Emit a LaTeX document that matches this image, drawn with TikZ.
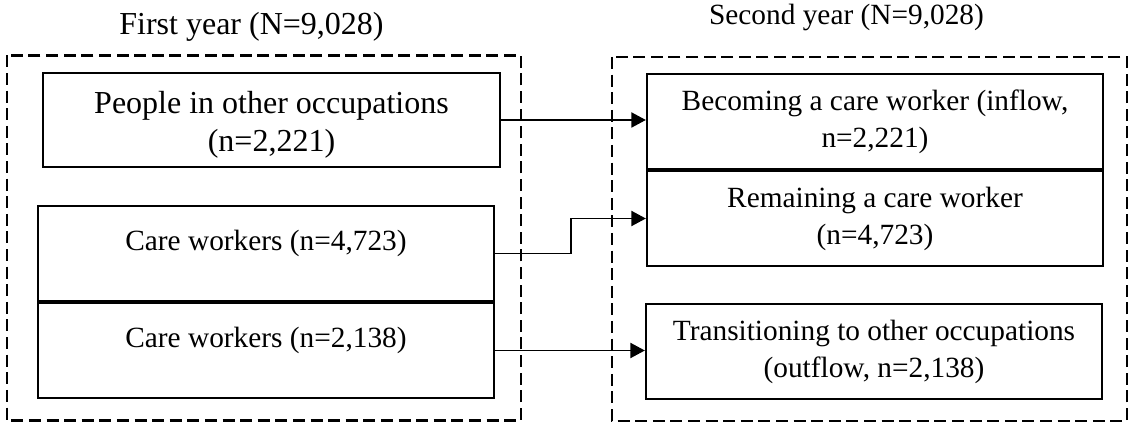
\documentclass[tikz,border=0pt]{standalone}
\usepackage{fontspec}
\setmainfont{Liberation Serif}
\usetikzlibrary{arrows.meta}

\begin{document}
\begin{tikzpicture}[x=0.375pt, y=-0.375pt,
  box/.style={draw, line width=0.9pt, inner sep=0pt, align=center, minimum width=171pt, minimum height=35.6pt, font=\fontsize{11}{13.9}\selectfont},
  bigbox/.style={box, font=\fontsize{12}{14.6}\selectfont},
  cwbox/.style={box, text height=8pt, text depth=10.3pt},
  groupline/.style={draw, line width=0.85pt, dash pattern=on 4.5pt off 2.1pt},
  flow/.style={-{Triangle[length=5.4pt,width=5.7pt]}, line width=0.45pt}]

\useasboundingbox (0,0) rectangle (1131,423);
\draw[groupline] (6.7,55.5) rectangle (521,420.5);
\draw[groupline] (612,57) rectangle (1127,421);
\node[anchor=base, font=\fontsize{12}{14.4}\selectfont] (first) at (251.5,35) {First year (N=9,028)};
\node[anchor=base, font=\fontsize{11}{13.2}\selectfont] (second) at (846.5,25) {Second year (N=9,028)};

\node[bigbox, minimum width=171.4pt, minimum height=35.25pt, text height=26pt, text depth=2pt] (people) at (271.5,120) {People in other occupations\\(n=2,221)};
\node[cwbox] (stay) at (266,253.5) {Care workers (n=4,723)};
\node[cwbox] (leave) at (266,350.5) {Care workers (n=2,138)};
\node[box] (becoming) at (875,121.5) {Becoming a care worker (inflow,\\n=2,221)};
\node[box] (remaining) at (875,218.5) {Remaining a care worker\\(n=4,723)};
\node[box] (transition) at (874,351.5) {Transitioning to other occupations\\(outflow, n=2,138)};

\coordinate (bend) at (571,0);
\draw[flow] (people.east) -- (people.east -| becoming.west);
\draw[flow] (stay.east) -- (stay.east -| bend) |- (remaining.west);
\draw[flow] (leave.east) -- (leave.east -| transition.west);

\end{tikzpicture}
\end{document}
